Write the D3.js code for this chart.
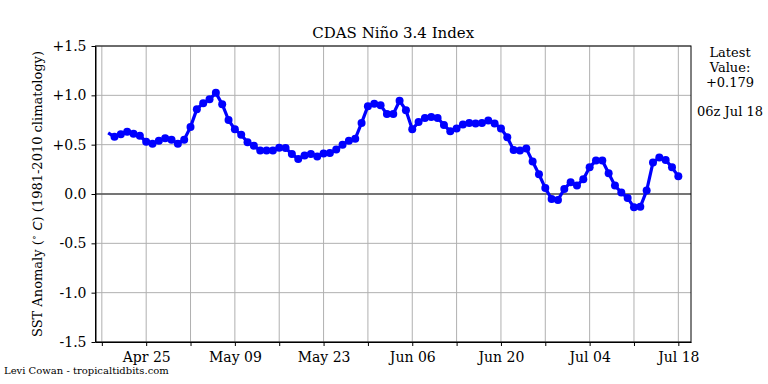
<!DOCTYPE html>
<html>
<head>
<meta charset="utf-8">
<script src="https://cdn.jsdelivr.net/npm/d3@7"></script>
<style>
  body { margin: 0; background: #fff; }
  svg { font-family: "DejaVu Serif", serif; }
  .grid line { stroke: #b0b0b0; stroke-width: 1; }
  .axis path, .axis line { stroke: #000; }
  .axis text { font-family: "DejaVu Serif", serif; font-size: 14px; fill: #000; }
</style>
</head>
<body>
<div id="chart"></div>
<script>
var width = 768, height = 384;

// daily values, Apr 19 .. Jul 18
var startDay = "2025-04-19";
var anomaly = [
  0.62, 0.58, 0.605, 0.63, 0.61, 0.59, 0.53, 0.51, 0.54, 0.565,
  0.55, 0.51, 0.55, 0.68, 0.86, 0.92, 0.96, 1.025, 0.91, 0.75,
  0.655, 0.60, 0.525, 0.49, 0.44, 0.44, 0.44, 0.47, 0.465, 0.405,
  0.355, 0.39, 0.405, 0.38, 0.41, 0.415, 0.45, 0.50, 0.54, 0.56,
  0.72, 0.89, 0.915, 0.90, 0.81, 0.81, 0.945, 0.85, 0.655, 0.73,
  0.77, 0.78, 0.77, 0.70, 0.635, 0.665, 0.705, 0.72, 0.715, 0.72,
  0.745, 0.715, 0.665, 0.575, 0.445, 0.44, 0.46, 0.33, 0.20, 0.06,
  -0.05, -0.06, 0.05, 0.12, 0.085, 0.15, 0.27, 0.34, 0.34, 0.21,
  0.085, 0.015, -0.04, -0.135, -0.13, 0.035, 0.32, 0.37, 0.345, 0.27,
  0.179
];
var yTicks = [-1.5, -1.0, -0.5, 0.0, 0.5, 1.0, 1.5];
var yTickLabels = ["-1.5", "-1.0", "-0.5", "0.0", "+0.5", "+1.0", "+1.5"];
var weekTicks = ["2025-04-18", "2025-04-25", "2025-05-02", "2025-05-09", "2025-05-16",
  "2025-05-23", "2025-05-30", "2025-06-06", "2025-06-13", "2025-06-20",
  "2025-06-27", "2025-07-04", "2025-07-11", "2025-07-18"];
var labelTicks = ["2025-04-25", "2025-05-09", "2025-05-23", "2025-06-06",
  "2025-06-20", "2025-07-04", "2025-07-18"];
var xLimits = ["2025-04-17", "2025-07-20"];

var parse = d3.utcParse("%Y-%m-%d");
var t0 = parse(startDay);
var data = anomaly.map(function(v, i) {
  return { date: d3.utcDay.offset(t0, i), value: v };
});

var svg = d3.select("#chart").append("svg")
  .attr("width", width)
  .attr("height", height);

var x = d3.scaleUtc()
  .domain(xLimits.map(parse))
  .range([95.5, 691]);

var y = d3.scaleLinear()
  .domain([-1.5, 1.5])
  .range([342, 46]);

// grid
var grid = svg.append("g").attr("class", "grid");
grid.selectAll(".vx")
  .data(weekTicks.map(parse))
  .enter().append("line")
    .attr("x1", function(d) { return x(d); })
    .attr("x2", function(d) { return x(d); })
    .attr("y1", y(-1.5))
    .attr("y2", y(1.5));
grid.selectAll(".hy")
  .data(yTicks)
  .enter().append("line")
    .attr("x1", x.range()[0])
    .attr("x2", x.range()[1])
    .attr("y1", function(d) { return y(d); })
    .attr("y2", function(d) { return y(d); });

// zero line
svg.append("line")
  .attr("x1", x.range()[0])
  .attr("x2", x.range()[1])
  .attr("y1", y(0))
  .attr("y2", y(0))
  .attr("stroke", "#555")
  .attr("stroke-width", 1.3);

// series
var line = d3.line()
  .x(function(d) { return x(d.date); })
  .y(function(d) { return y(d.value); });

svg.append("path")
  .datum(data)
  .attr("fill", "none")
  .attr("stroke", "#0000ff")
  .attr("stroke-width", 3.2)
  .attr("stroke-linejoin", "round")
  .attr("d", line);

svg.selectAll(".dot")
  .data(data.slice(1))
  .enter().append("circle")
    .attr("class", "dot")
    .attr("cx", function(d) { return x(d.date); })
    .attr("cy", function(d) { return y(d.value); })
    .attr("r", 4)
    .attr("fill", "#0000ff");

// axes
var fmt = d3.utcFormat("%b %d");
var xAxis = d3.axisBottom(x)
  .tickValues(weekTicks.map(parse))
  .tickSize(4)
  .tickSizeOuter(0)
  .tickFormat(function(d) {
    var s = d3.utcFormat("%Y-%m-%d")(d);
    return labelTicks.indexOf(s) >= 0 ? fmt(d) : "";
  });

svg.append("g")
  .attr("class", "axis")
  .attr("transform", "translate(0," + y(-1.5) + ")")
  .call(xAxis)
  .call(function(g) { g.selectAll("text").attr("dy", "0.95em"); });

var yAxis = d3.axisLeft(y)
  .tickValues(yTicks)
  .tickSize(4)
  .tickSizeOuter(0)
  .tickPadding(5)
  .tickFormat(function(d, i) { return yTickLabels[i]; });

svg.append("g")
  .attr("class", "axis")
  .attr("transform", "translate(" + x.range()[0] + ",0)")
  .call(yAxis);

// frame
svg.append("rect")
  .attr("x", x.range()[0])
  .attr("y", y(1.5))
  .attr("width", x.range()[1] - x.range()[0])
  .attr("height", y(-1.5) - y(1.5))
  .attr("fill", "none")
  .attr("stroke", "#000")
  .attr("stroke-width", 1);

// title
svg.append("text")
  .attr("x", (x.range()[0] + x.range()[1]) / 2)
  .attr("y", 38)
  .attr("text-anchor", "middle")
  .style("font-size", "15px")
  .text("CDAS Niño 3.4 Index");

// y label
var ylab = svg.append("text")
  .attr("transform", "translate(42," + y(0) + ") rotate(-90)")
  .attr("text-anchor", "middle")
  .style("font-size", "13px");
ylab.append("tspan").text("SST Anomaly (");
ylab.append("tspan").attr("font-size", "9px").attr("dy", "-5")
  .style("font-family", "DejaVu Sans").text("∘");
ylab.append("tspan").attr("dy", "5")
  .style("font-family", "DejaVu Sans").style("font-style", "italic").text(" C");
ylab.append("tspan").text(") (1981-2010 climatology)");

// latest value box
var side = svg.append("g")
  .attr("transform", "translate(730,0)")
  .style("font-size", "13px")
  .attr("text-anchor", "middle");
side.append("text").attr("y", 57).text("Latest");
side.append("text").attr("y", 72).text("Value:");
side.append("text").attr("y", 87).text("+" + anomaly[anomaly.length - 1].toFixed(3));
side.append("text").attr("y", 116).text("06z Jul 18");

// credit
svg.append("text")
  .attr("x", 4)
  .attr("y", 374)
  .style("font-size", "10px")
  .text("Levi Cowan - tropicaltidbits.com");
</script>
</body>
</html>
